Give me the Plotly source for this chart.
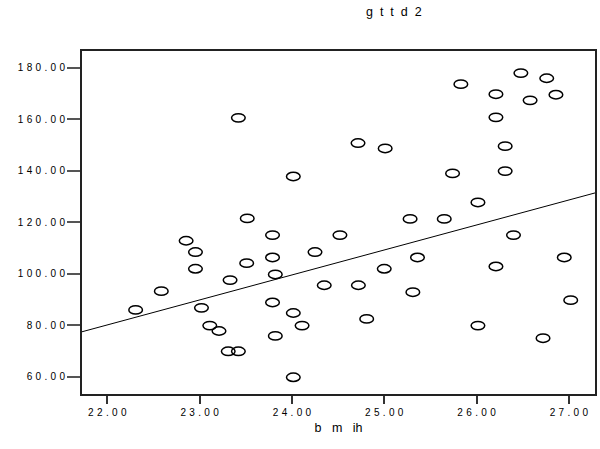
import plotly.graph_objects as go

# Data (bmih vs gttd2)
bmih = [23.42, 24.015, 23.516, 23.79, 24.52, 22.854, 22.955, 24.25, 23.79, 23.51,
        22.955, 23.82, 23.33, 24.35, 22.585, 23.79, 22.307, 23.02, 24.015, 23.11,
        24.11, 23.21, 23.82, 23.31, 23.42, 24.015,
        26.48, 26.76, 25.83, 26.21, 26.86, 26.58, 26.21, 24.716, 25.01, 26.31,
        25.74, 26.31, 26.015, 25.28, 25.65,
        26.40, 25.36, 26.95, 25.0, 26.21, 24.72, 25.31, 27.02, 24.81, 26.015, 26.72]
gttd2 = [160.6, 137.8, 121.5, 115.0, 115.0, 112.8, 108.4, 108.4, 106.3, 104.1,
         101.9, 99.7, 97.5, 95.5, 93.2, 88.8, 85.9, 86.7, 84.7, 79.8,
         79.8, 77.7, 75.8, 69.8, 69.8, 59.7,
         178.0, 176.0, 173.7, 169.8, 169.6, 167.4, 160.8, 150.8, 148.7, 149.6,
         139.0, 139.9, 127.7, 121.3, 121.3,
         115.0, 106.3, 106.3, 101.9, 102.8, 95.5, 92.8, 89.7, 82.4, 79.8, 74.9]

# fit line (ends at the frame edges)
fit_x = [21.726, 27.283]
fit_y = [77.4, 131.4]

x_ticks = [22, 23, 24, 25, 26, 27]
y_ticks = [60, 80, 100, 120, 140, 160, 180]
x_range = [21.726, 27.283]
y_range = [53.2, 186.6]

SP = "\u2004"
def spaced(s):
    return SP.join(list(s))

x_ticktext = [spaced(f"{v:.2f}") for v in x_ticks]
y_ticktext = [spaced(f"{v:.2f}") for v in y_ticks]

fig = go.Figure()
fig.add_trace(go.Scatter(x=fit_x, y=fit_y, mode="lines",
                         line=dict(color="black", width=1), hoverinfo="skip",
                         showlegend=False))
fig.add_trace(go.Scatter(x=bmih, y=gttd2, mode="markers",
                         marker=dict(size=12, color="rgba(0,0,0,0)"),
                         showlegend=False))

shapes = []
for xv, yv in zip(bmih, gttd2):
    shapes.append(dict(type="circle", xref="x", yref="y",
                       xsizemode="pixel", ysizemode="pixel",
                       xanchor=xv, yanchor=yv,
                       x0=-6.8, x1=6.8, y0=-4.2, y1=4.2,
                       line=dict(color="black", width=1.5),
                       fillcolor="rgba(0,0,0,0)"))

fig.update_layout(
    width=600, height=449,
    margin=dict(l=82, r=3, t=51, b=55),
    paper_bgcolor="white", plot_bgcolor="white",
    font=dict(family="Liberation Sans, Arial, sans-serif", color="black"),
    shapes=shapes,
    annotations=[dict(text="g\u00a0\u00a0t\u00a0\u00a0t\u00a0\u00a0d\u00a0\u00a02",
                      xref="paper", yref="paper",
                      x=(395 - 82) / 515, y=1 + (51 - 12) / 343,
                      xanchor="center", yanchor="middle", showarrow=False,
                      font=dict(size=12.5, color="black"))],
    xaxis=dict(range=x_range, tickvals=x_ticks, ticktext=x_ticktext,
               ticks="outside", ticklen=8, tickwidth=2, tickcolor="#333",
               showline=True, linecolor="#222", linewidth=2, mirror=True,
               showgrid=False, zeroline=False, tickfont=dict(size=10),
               title=dict(text="b\u00a0\u00a0\u00a0m\u00a0\u00a0\u00a0ih",
                          font=dict(size=12.5), standoff=6)),
    yaxis=dict(range=y_range, tickvals=y_ticks, ticktext=y_ticktext,
               ticks="outside", ticklen=13, tickwidth=2, tickcolor="#555",
               showline=True, linecolor="#222", linewidth=2, mirror=True,
               showgrid=False, zeroline=False, tickfont=dict(size=10)),
)

fig.write_html("out.html",
               config={"displayModeBar": False},
               post_script="document.body.style.margin='0px';")
